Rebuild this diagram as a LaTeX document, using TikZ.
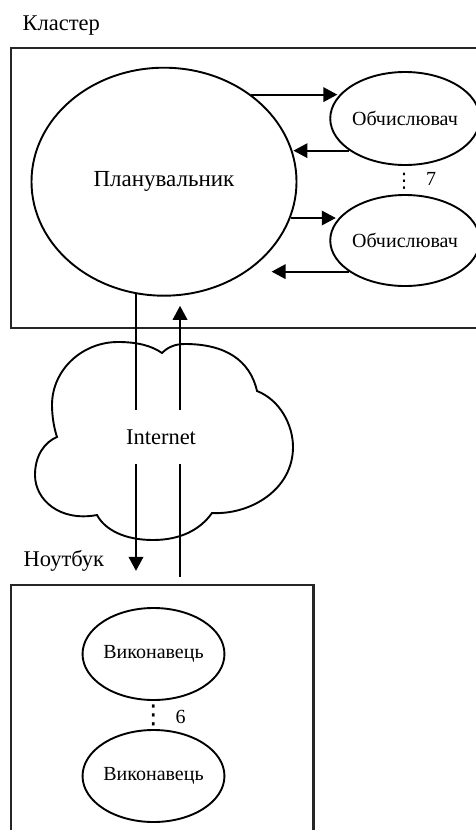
\documentclass[tikz,border=0pt]{standalone}
\usepackage{fontspec}
\setmainfont{Liberation Serif}
\newfontfamily\dejavu{DejaVu Sans}
\usetikzlibrary{arrows.meta,shapes.geometric}
\begin{document}
\begin{tikzpicture}[x=1pt,y=-1pt,
  line width=1.9pt,
  >={Triangle[length=14pt,width=14.5pt]},
  oval/.style={draw, ellipse, inner sep=0pt, line width=1.9pt},
  box/.style={draw=black!85, rectangle, inner sep=0pt, line width=2.2pt},
  big/.style={font=\fontsize{22.5}{26}\selectfont, inner sep=0pt},
  plan/.style={font=\fontsize{23}{27}\selectfont, inner sep=0pt},
  small/.style={font=\fontsize{20}{24}\selectfont, inner sep=0pt},
  vdot/.style={font=\dejavu\fontsize{#1}{#1}\selectfont, inner sep=0pt},
]
\useasboundingbox (0,0) rectangle (476,830);
\clip (0,0) rectangle (476,830);
\fill[white] (0,0) rectangle (476,830);

% frames
\node[box, minimum width=479pt, minimum height=280pt] (cluster) at (250.5,188.2) {};
\node[box, minimum width=302.5pt, minimum height=265pt] (laptop) at (162.25,717.5) {};
\node[big, anchor=base west] (clabel) at (21.7,30.7) {Кластер};
\node[big, anchor=base west] (nlabel) at (22.7,566) {Ноутбук};

% cluster content
\node[oval, plan, minimum width=265pt, minimum height=228pt] (planner) at (164,181.7) {Планувальник};
\node[oval, small, minimum width=136pt, minimum height=93pt] (comp1) at (405,118.5) {Обчислювач};
\node[oval, small, minimum width=136pt, minimum height=91pt] (comp2) at (405,240.5) {Обчислювач};
\node[vdot=20] (dots7) at (404,181.5) {⋮};
\node[small, anchor=base] (n7) at (431,185.3) {7};

\draw[->, shorten >=4pt] (planner.45) -- (planner.45 -| comp1.158);
\draw[->, shorten >=2pt] (comp1.210) -- (comp1.210 -| planner.15);
\draw[->, shorten >=6pt] (planner.-16) -- (planner.-16 -| comp2.158);
\draw[->, shorten >=12pt] (comp2.209) -- (comp2.209 -| planner.-40);

% cloud
\draw[line width=1.9pt]
  (57,437) .. controls (54,428) and (52,416) .. (52,405)
  .. controls (52,370) and (82,342) .. (118,342)
  .. controls (138,342) and (152,346) .. (162,353)
  .. controls (168,347) and (175,344) .. (185,344)
  .. controls (225,344) and (250,360) .. (257,391)
  .. controls (280,400) and (293,425) .. (293,447)
  .. controls (293,490) and (250,515) .. (212,513)
  .. controls (200,530) and (180,540) .. (153,540)
  .. controls (125,540) and (105,530) .. (97,515)
  .. controls (60,522) and (35,500) .. (35,475)
  .. controls (35,455) and (45,442) .. cycle;
\node[big, minimum height=52pt] (inet) at (161,437) {Internet};

% internet links
\draw (planner.256) -- (planner.256 |- inet.north);
\draw[->, shorten >=13pt] (planner.256 |- inet.south) -- (planner.256 |- laptop.north);
\draw[shorten <=7pt] (planner.278 |- laptop.north) -- (planner.278 |- inet.south);
\draw[->, shorten >=10pt] (planner.278 |- inet.north) -- (planner.278);

% laptop content
\node[oval, small, minimum width=135pt, minimum height=92pt] (exec1) at (153.5,654) {Виконавець};
\node[oval, small, minimum width=135pt, minimum height=92pt] (exec2) at (153.5,776) {Виконавець};
\node[vdot=26] (dots6) at (153.3,715.3) {⋮};
\node[small, anchor=base] (n6) at (180.5,723.3) {6};
\end{tikzpicture}
\end{document}
